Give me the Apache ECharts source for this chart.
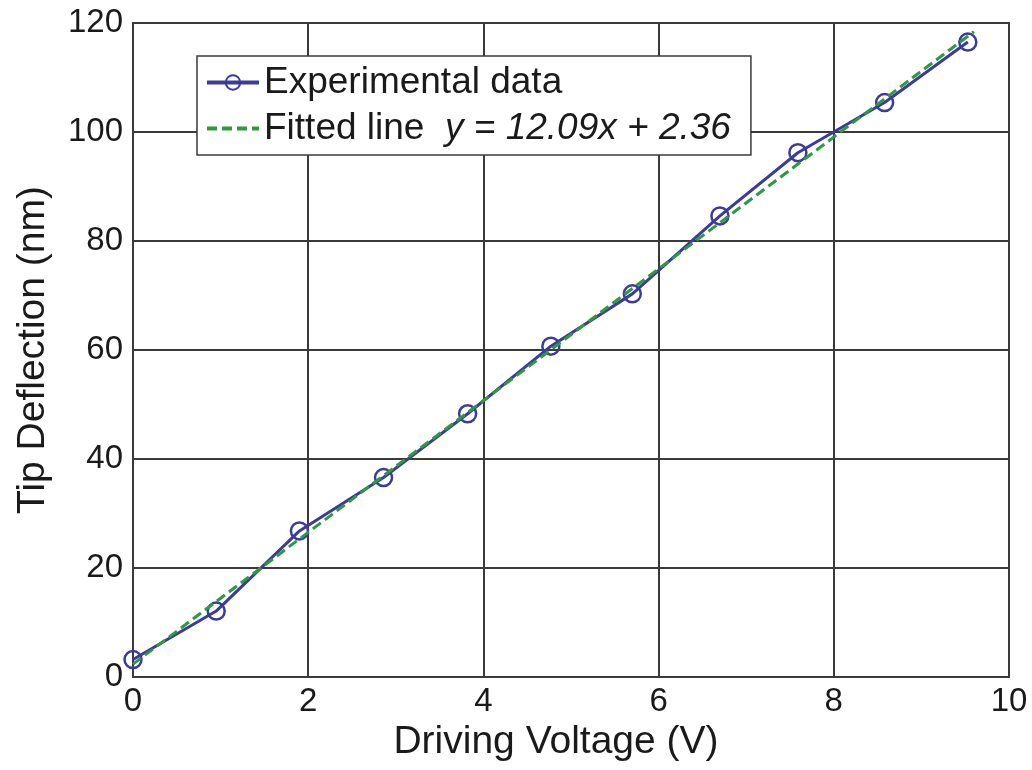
<!DOCTYPE html>
<html>
<head>
<meta charset="utf-8">
<script src="https://cdn.jsdelivr.net/npm/echarts@6/dist/echarts.min.js"></script>
<style>
  html, body { margin: 0; padding: 0; background: #fff; }
  #chart { width: 1032px; height: 770px; }
</style>
</head>
<body>
<div id="chart"></div>
<script>
// driving voltage (V) and measured tip deflection (nm)
const voltage = [0, 0.95, 1.9, 2.86, 3.82, 4.77, 5.7, 6.7, 7.59, 8.58, 9.53];
const deflection = [3.2, 12.1, 26.8, 36.6, 48.3, 60.7, 70.3, 84.6, 96.2, 105.4, 116.5];

// fitted line endpoints, y = 12.09x + 2.36
const fitX = [0, 9.6];
const fitY = [2.36, 118.42];

const xTicks = { min: 0, max: 10, step: 2 };
const yTicks = { min: 0, max: 120, step: 20 };

const FONT = 'Liberation Sans, Arial, sans-serif';
const gridColor = '#3a3a3a';
const textColor = '#1a1a1a';
const dataColor = '#3b3b9c';
const fitColor = '#2e9a3e';

const chart = echarts.init(document.getElementById('chart'), null, { renderer: 'canvas' });

chart.setOption({
    backgroundColor: '#fff',
    animation: false,
    grid: {
        left: 133,
        right: 23,
        top: 23,
        bottom: 93,
        show: true,
        borderColor: gridColor,
        borderWidth: 2,
        backgroundColor: 'transparent'
    },
    legend: {
        left: 197,
        top: 56,
        orient: 'vertical',
        backgroundColor: '#fff',
        borderColor: gridColor,
        borderWidth: 1.5,
        borderRadius: 0,
        padding: [8, 20, 8, 8],
        itemGap: 9,
        itemWidth: 52,
        itemHeight: 18,
        lineStyle: { width: 4 },
        textStyle: {
            fontFamily: FONT,
            fontSize: 37,
            color: textColor,
            rich: {
                n: { fontFamily: FONT, fontSize: 37, color: textColor },
                i: { fontFamily: FONT, fontSize: 37, color: textColor, fontStyle: 'italic' }
            }
        },
        formatter: function (name) {
            if (name === 'Fitted line') {
                return '{n|Fitted line}  {i|y = 12.09x + 2.36}';
            }
            return name;
        },
        data: [
            'Experimental data',
            { name: 'Fitted line', itemStyle: { opacity: 0 } }
        ]
    },
    xAxis: {
        type: 'value',
        min: xTicks.min,
        max: xTicks.max,
        interval: xTicks.step,
        name: 'Driving Voltage (V)',
        nameLocation: 'middle',
        nameGap: 42,
        nameTextStyle: { fontFamily: FONT, fontSize: 39, color: textColor, padding: [0, 30, 0, 0] },
        axisLine: { show: true, lineStyle: { color: gridColor, width: 2 } },
        axisTick: { show: false },
        axisLabel: { fontFamily: FONT, fontSize: 33, color: textColor, margin: 8 },
        splitLine: { show: true, lineStyle: { color: gridColor, width: 2 } }
    },
    yAxis: {
        type: 'value',
        min: yTicks.min,
        max: yTicks.max,
        interval: yTicks.step,
        name: 'Tip Deflection (nm)',
        nameLocation: 'middle',
        nameGap: 80,
        nameTextStyle: { fontFamily: FONT, fontSize: 39, color: textColor },
        axisLine: { show: true, lineStyle: { color: gridColor, width: 2 } },
        axisTick: { show: false },
        axisLabel: { fontFamily: FONT, fontSize: 33, color: textColor, margin: 10 },
        splitLine: { show: true, lineStyle: { color: gridColor, width: 2 } }
    },
    series: [
        {
            name: 'Fitted line',
            type: 'line',
            data: fitX.map((x, i) => [x, fitY[i]]),
            symbol: 'none',
            z: 3,
            lineStyle: { color: fitColor, width: 3, type: [10, 5] },
            itemStyle: { color: fitColor }
        },
        {
            name: 'Experimental data',
            type: 'line',
            data: voltage.map((v, i) => [v, deflection[i]]),
            symbol: 'circle',
            symbolSize: 17,
            z: 2,
            lineStyle: { color: dataColor, width: 3 },
            itemStyle: { color: 'rgba(255,255,255,0)', borderColor: dataColor, borderWidth: 2.5 }
        }
    ]
});
</script>
</body>
</html>
